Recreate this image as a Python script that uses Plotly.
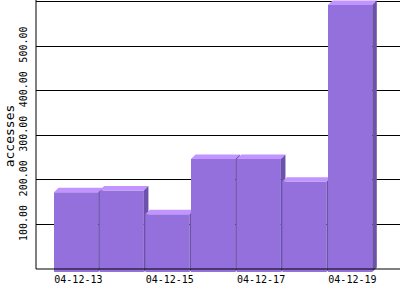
import plotly.graph_objects as go

days = ["04-12-13", "04-12-14", "04-12-15", "04-12-16", "04-12-17", "04-12-18", "04-12-19"]
accesses = [172, 176, 123, 247, 247, 196, 592]
label_days = ["04-12-13", "04-12-15", "04-12-17", "04-12-19"]
y_ticks = [100, 200, 300, 400, 500, 600]
y_ticktext = ["100.00", "200.00", "300.00", "400.00", "500.00", ""]

FRONT = "#9370DB"
TOP = "#C194FF"
SIDE = "#6C52AA"

W = 0.968      # front face width (category units)
DX = 0.10      # depth offset in x (category units)
DY = 10.0      # depth offset in y (value units)
BASE = -6.7    # bars extend slightly below the baseline

fig = go.Figure()
for i, v in enumerate(accesses):
    x0, x1 = i - W / 2, i + W / 2
    # front face
    fig.add_trace(go.Scatter(x=[x0, x1, x1, x0, x0], y=[BASE, BASE, v, v, BASE],
                             fill="toself", fillcolor=FRONT, mode="none",
                             hoverinfo="skip", showlegend=False))
    # top face
    fig.add_trace(go.Scatter(x=[x0, x1, x1 + DX, x0 + DX, x0], y=[v, v, v + DY, v + DY, v],
                             fill="toself", fillcolor=TOP, mode="none",
                             hoverinfo="skip", showlegend=False))
    # side face
    fig.add_trace(go.Scatter(x=[x1, x1 + DX, x1 + DX, x1, x1], y=[BASE, BASE + DY, v + DY, v, BASE],
                             fill="toself", fillcolor=SIDE, mode="none",
                             hoverinfo="skip", showlegend=False))

label_pos = [days.index(d) + DX / 2 for d in label_days]

fig.update_layout(
    width=400, height=300,
    margin=dict(l=36, r=0, t=0, b=28),
    paper_bgcolor="white", plot_bgcolor="white",
    font=dict(family="DejaVu Sans Mono", size=10, color="black"),
    xaxis=dict(range=[-0.878, 7.092], tickvals=label_pos, ticktext=label_days,
               showgrid=False, zeroline=False, showline=False, ticks="",
               tickfont=dict(size=10), fixedrange=True),
    yaxis=dict(range=[-6.73, 603.36], tickvals=y_ticks, ticktext=y_ticktext,
               showgrid=True, gridcolor="black", gridwidth=1, zeroline=False,
               showline=False, ticks="", tickangle=-90, tickfont=dict(size=10),
               ticklabelstandoff=6,
               title=dict(text="accesses", font=dict(size=13), standoff=0),
               fixedrange=True),
    shapes=[
        dict(type="line", xref="paper", yref="y", x0=0, x1=1, y0=0, y1=0,
             line=dict(color="black", width=1), layer="above"),
        dict(type="line", xref="paper", yref="y", x0=0, x1=0, y0=0, y1=603.36,
             line=dict(color="black", width=1), layer="above"),
    ],
)

fig.write_html("out.html")
